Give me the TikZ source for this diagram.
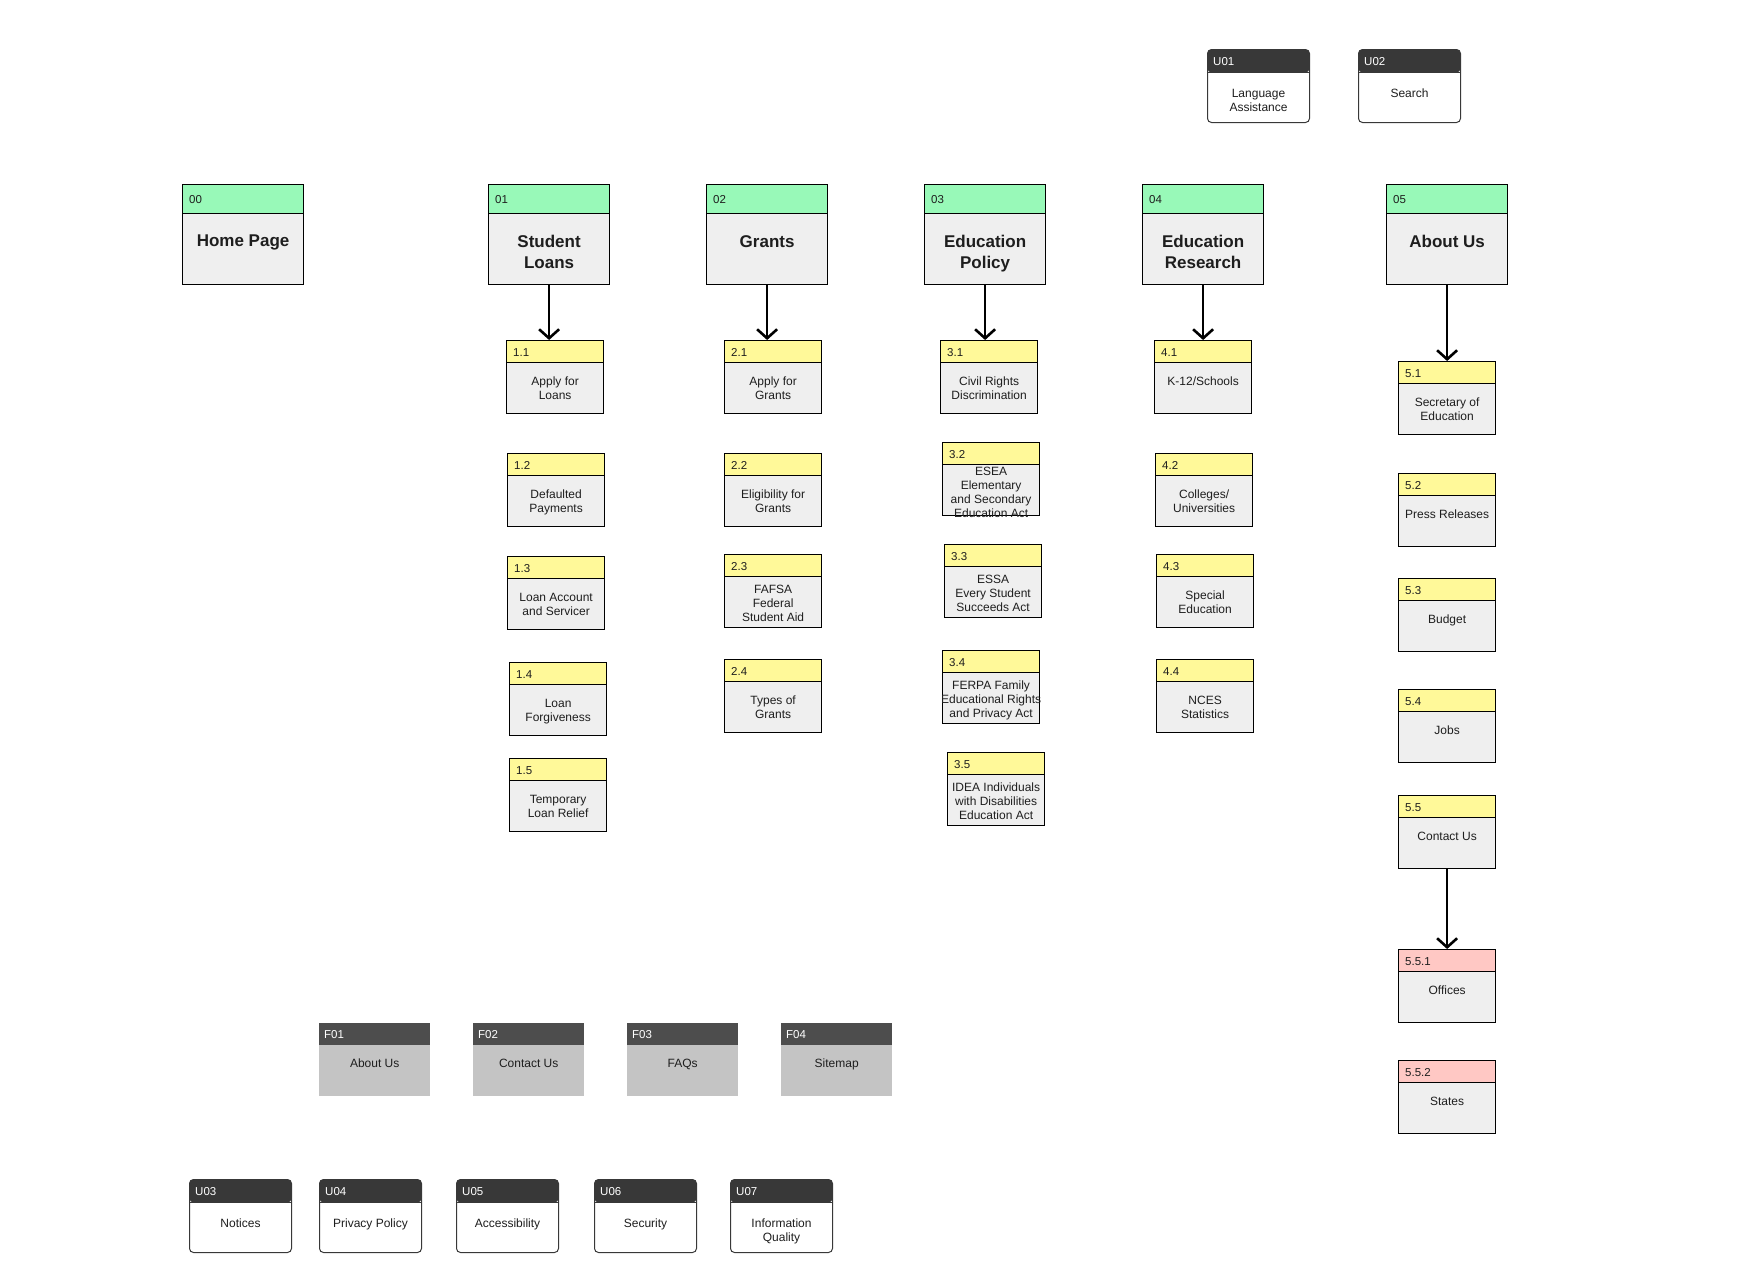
\documentclass[tikz,border=0pt]{standalone}
\usepackage{fontspec}
\setmainfont{Liberation Sans}
\usetikzlibrary{arrows.meta}

\definecolor{mainhdr}{RGB}{152,249,184}
\definecolor{subhdr}{RGB}{255,249,153}
\definecolor{leafhdr}{RGB}{255,200,196}
\definecolor{pagegrey}{RGB}{239,239,239}
\definecolor{foothdr}{RGB}{77,77,77}
\definecolor{footbody}{RGB}{196,196,196}
\definecolor{utilhdr}{RGB}{56,56,56}
\definecolor{ink}{RGB}{30,30,30}

\tikzset{
  box/.style 2 args={inner sep=0pt, anchor=north west, minimum width=#1, minimum height=#2},
  band/.style n args={3}{path picture={
      \fill[#1] (path picture bounding box.north west) rectangle ([yshift=-#2]path picture bounding box.north east);
      \draw[#3, line width=1.2pt] ([yshift=-#2]path picture bounding box.north west) -- ([yshift=-#2]path picture bounding box.north east);}},
  num/.style={anchor=west, inner sep=0pt, text=ink, font=\fontsize{11.5}{13}\selectfont},
  title/.style={anchor=north, inner sep=0pt, align=center, text=ink, font=\fontsize{12}{14}\selectfont},
  % main sections
  mainbox/.style={box={121pt}{100pt}, draw, line width=1.2pt, fill=pagegrey, band={mainhdr}{29pt}{black}},
  mainnum/.style={num, xshift=7pt, yshift=-16pt},
  maintext/.style={title, yshift=-51pt, font=\fontsize{17}{21}\selectfont\bfseries},
  % sub pages
  subbox/.style={box={97pt}{73pt}, draw, line width=1.2pt, fill=pagegrey, band={subhdr}{22pt}{black}},
  subnum/.style={num, xshift=7pt, yshift=-12.5pt},
  subtext/.style={title, yshift=-37pt},
  leafbox/.style={subbox, band={leafhdr}{22pt}{black}},
  leafnum/.style={subnum},
  leaftext/.style={subtext},
  % utility links
  utilbox/.style={box={102pt}{73pt}, draw=utilhdr, line width=1pt, rounded corners=4pt, fill=white, band={utilhdr}{23pt}{utilhdr}},
  utilnum/.style={num, text=white, xshift=6pt, yshift=-12.5pt},
  utiltext/.style={title, yshift=-40pt},
  % footer links
  footbox/.style={box={111pt}{73pt}, fill=footbody, band={foothdr}{21pt}{foothdr}},
  footnum/.style={num, text=white, xshift=5pt, yshift=-11.5pt},
  foottext/.style={title, yshift=-36pt},
  arrow/.style={line width=2.6pt, -{Straight Barb[length=9pt, width=20pt, line width=2.6pt]}},
}

% #1 extra text style, #2 kind, #3 name, #4 x, #5 y, #6 number, #7 text
\newcommand{\pagebox}[7][]{%
  \node[#2box] (#3) at (#4,#5) {};
  \node[#2num] (#3num) at (#3.north west) {#6};
  \node[#2text, #1] (#3text) at (#3.north) {#7};
}

\begin{document}
\begin{tikzpicture}[x=1pt, y=-1pt]
\useasboundingbox (0,0) rectangle (1754,1282);

%---------------------------------------
% Utility links (top)
%---------------------------------------
\pagebox{util}{u01}{1207}{49}{U01}{Language\\Assistance}
\pagebox{util}{u02}{1358}{49}{U02}{Search}

%---------------------------------------
% Main sections
%---------------------------------------
\pagebox{main}{m00}{182}{184}{00}{Home Page}
\pagebox{main}{m01}{488}{184}{01}{Student\\Loans}
\pagebox{main}{m02}{706}{184}{02}{Grants}
\pagebox{main}{m03}{924}{184}{03}{Education\\Policy}
\pagebox{main}{m04}{1142}{184}{04}{Education\\Research}
\pagebox{main}{m05}{1386}{184}{05}{About Us}

%---------------------------------------
% 01 Student Loans
%---------------------------------------
\pagebox{sub}{s11}{506}{340}{1.1}{Apply for\\Loans}
\pagebox{sub}{s12}{507}{453}{1.2}{Defaulted\\Payments}
\pagebox{sub}{s13}{507}{556}{1.3}{Loan Account\\and Servicer}
\pagebox{sub}{s14}{509}{662}{1.4}{Loan\\Forgiveness}
\pagebox{sub}{s15}{509}{758}{1.5}{Temporary\\Loan Relief}

%---------------------------------------
% 02 Grants
%---------------------------------------
\pagebox{sub}{s21}{724}{340}{2.1}{Apply for\\Grants}
\pagebox{sub}{s22}{724}{453}{2.2}{Eligibility for\\Grants}
\pagebox[yshift=6pt]{sub}{s23}{724}{554}{2.3}{FAFSA\\Federal\\Student Aid}
\pagebox{sub}{s24}{724}{659}{2.4}{Types of\\Grants}

%---------------------------------------
% 03 Education Policy
%---------------------------------------
\pagebox{sub}{s31}{940}{340}{3.1}{Civil Rights\\Discrimination}
\pagebox[yshift=12pt]{sub}{s32}{942}{442}{3.2}{ESEA\\Elementary\\and Secondary\\Education Act}
\pagebox[yshift=6pt]{sub}{s33}{944}{544}{3.3}{ESSA\\Every Student\\Succeeds Act}
\pagebox[yshift=6pt]{sub}{s34}{942}{650}{3.4}{FERPA Family\\Educational Rights\\and Privacy Act}
\pagebox[yshift=6pt]{sub}{s35}{947}{752}{3.5}{IDEA Individuals\\with Disabilities\\Education Act}

%---------------------------------------
% 04 Education Research
%---------------------------------------
\pagebox{sub}{s41}{1154}{340}{4.1}{K-12/Schools}
\pagebox{sub}{s42}{1155}{453}{4.2}{Colleges/\\Universities}
\pagebox{sub}{s43}{1156}{554}{4.3}{Special\\Education}
\pagebox{sub}{s44}{1156}{659}{4.4}{NCES\\Statistics}

%---------------------------------------
% 05 About Us
%---------------------------------------
\pagebox{sub}{s51}{1398}{361}{5.1}{Secretary of\\Education}
\pagebox{sub}{s52}{1398}{473}{5.2}{Press Releases}
\pagebox{sub}{s53}{1398}{578}{5.3}{Budget}
\pagebox{sub}{s54}{1398}{689}{5.4}{Jobs}
\pagebox{sub}{s55}{1398}{795}{5.5}{Contact Us}
\pagebox{leaf}{s551}{1398}{949}{5.5.1}{Offices}
\pagebox{leaf}{s552}{1398}{1060}{5.5.2}{States}

% Arrows
\draw[arrow] (m01.south) -- (m01.south |- s11.north);
\draw[arrow] (m02.south) -- (m02.south |- s21.north);
\draw[arrow] (m03.south) -- (m03.south |- s31.north);
\draw[arrow] (m04.south) -- (m04.south |- s41.north);
\draw[arrow] (m05.south) -- (m05.south |- s51.north);
\draw[arrow] (s55.south) -- (s55.south |- s551.north);

%---------------------------------------
% Footer and utility links (bottom)
%---------------------------------------
\pagebox{foot}{f01}{319}{1023}{F01}{About Us}
\pagebox{foot}{f02}{473}{1023}{F02}{Contact Us}
\pagebox{foot}{f03}{627}{1023}{F03}{FAQs}
\pagebox{foot}{f04}{781}{1023}{F04}{Sitemap}

\pagebox{util}{u03}{189}{1179}{U03}{Notices}
\pagebox{util}{u04}{319}{1179}{U04}{Privacy Policy}
\pagebox{util}{u05}{456}{1179}{U05}{Accessibility}
\pagebox{util}{u06}{594}{1179}{U06}{Security}
\pagebox{util}{u07}{730}{1179}{U07}{Information\\Quality}

\end{tikzpicture}
\end{document}
